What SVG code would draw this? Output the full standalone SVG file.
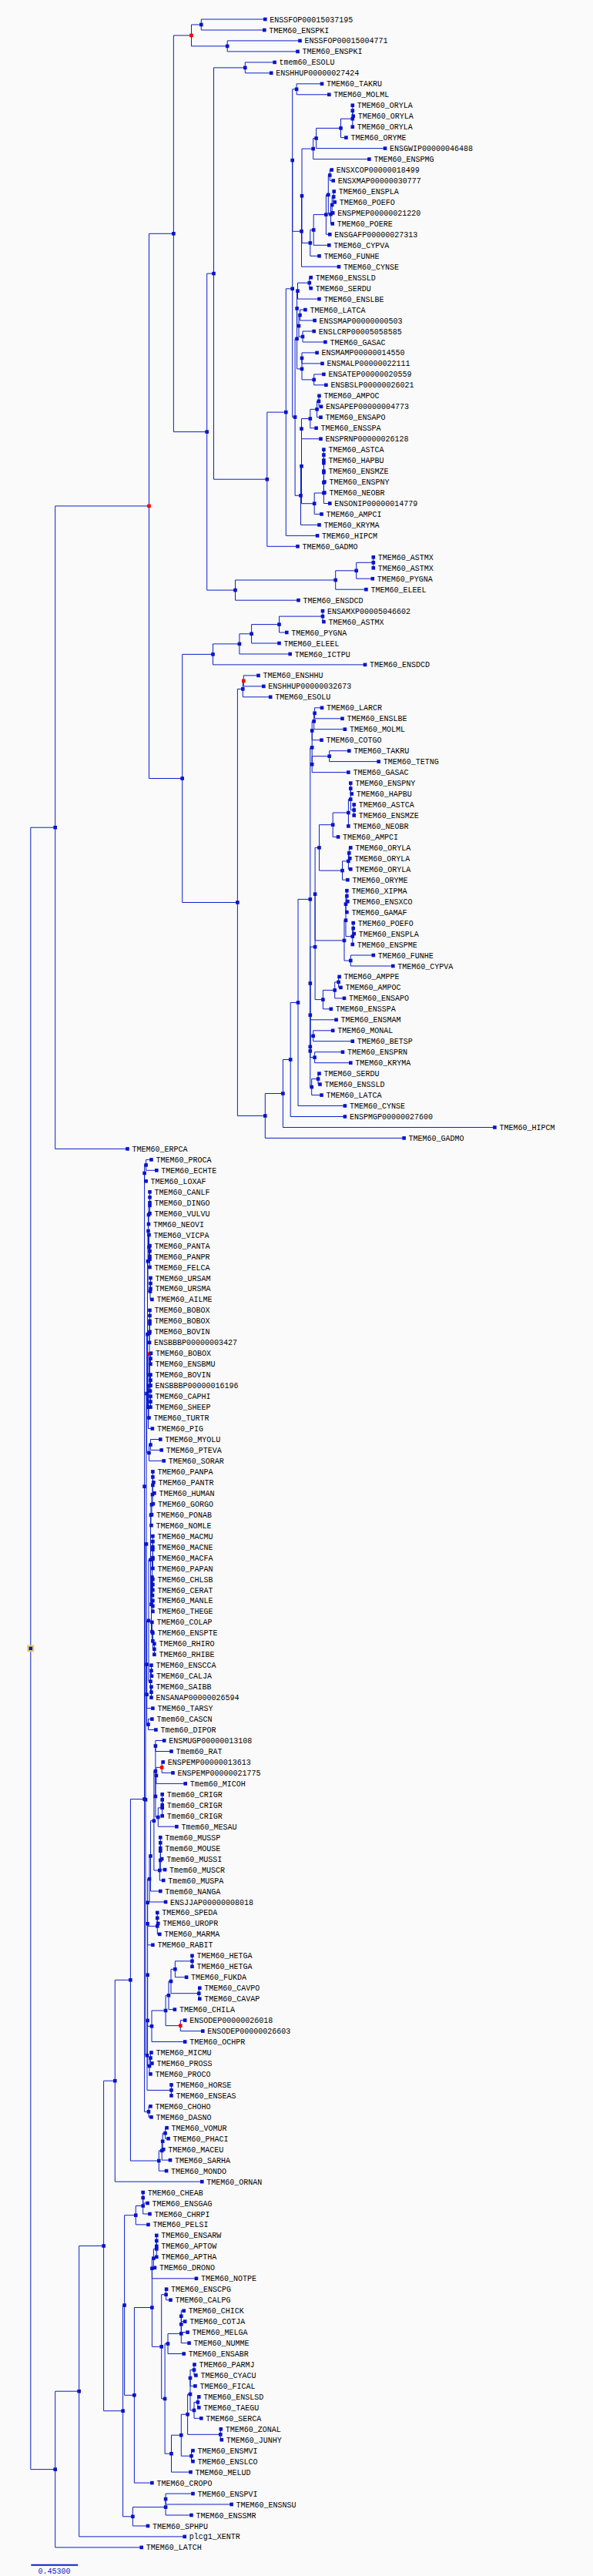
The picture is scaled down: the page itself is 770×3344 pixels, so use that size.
<svg xmlns="http://www.w3.org/2000/svg" xmlns:xlink="http://www.w3.org/1999/xlink" width="770" height="3344" viewBox="0 0 770 3344">
<style>
.c path{fill:none;stroke:#0d1fcb;stroke-width:1}
text{font-family:"Liberation Mono","DejaVu Sans Mono",monospace;font-size:10px;fill:#000}
.nodes{fill:#0a14c8}
.red{fill:#f00}
</style>
<defs><rect id="m" x="-2.3" y="-2.3" width="4.6" height="4.6"/></defs>
<rect width="770" height="3344" fill="#fafafa"/>
<g id="connectors" class="c">
<path d="M344.3 25H261.3V39H343.3"/><path d="M389.5 52.9H295.2V66.9H386.5"/><path d="M261.3 32H248.5V59.9H295.2"/><path d="M356.6 80.9H318.3V94.8H352.2"/>
<path d="M418 108.8H385.1V122.8H427.3"/><path d="M457.8 136.7V150.7H458.7"/><path d="M457.8 143.7V164.7"/><path d="M457.8 154.2H442.5V178.6H449.4"/><path d="M442.5 166.4H410.6V192.6H500"/><path d="M410.6 179.5H406.7V206.6H479.4"/>
<path d="M430.7 220.5H428.3V234.5H432.7"/><path d="M433.7 248.5H433.2V262.4H434.7"/><path d="M433.2 255.5H431.2V276.4H432.2"/><path d="M431.2 266H429.5V290.4H431.7"/><path d="M428.3 227.5H426.3V278.2H429.5"/><path d="M426.3 252.9H423.4V304.3H428.3"/><path d="M423.4 278.6H407.2V318.3H427.3"/><path d="M407.2 298.5H402.8V332.3H414.5"/><path d="M406.7 193.1H392V315.4H402.8"/><path d="M392 254.3H391.5V346.2H440"/><path d="M385.1 115.8H379.7V300.3H391.5"/>
<path d="M403.7 360.2H401.8V374.2H403.7"/><path d="M401.8 367.2H386.5V388.1H414.5"/><path d="M396.4 402.1H389.5V416H408.6"/><path d="M407.7 430H393V444H422.4"/><path d="M389.5 409.1H388V437H393"/><path d="M386.5 377.7H385.6V423.1H388"/><path d="M411.6 457.9H392V471.9H418.5"/><path d="M420.4 485.9H407.7V499.8H423.4"/><path d="M392 464.9V492.9H407.7"/><path d="M385.6 400.4V478.9H392"/>
<path d="M414.5 513.8H414V527.8H417"/><path d="M414 520.8H411.6V541.7H416.5"/><path d="M411.6 531.3H402.8V555.7H410.6"/><path d="M402.8 543.5H391.5V569.7H416.5"/>
<path d="M420.4 583.6V597.6"/><path d="M420.4 590.6V611.6"/><path d="M420.4 601.1V625.5H421.4"/><path d="M420.4 613.3V639.5H421.4"/><path d="M420.4 626.4V653.5H428.3"/><path d="M420.4 640H408.2V667.4H417.5"/><path d="M391.5 556.6V653.7H408.2"/><path d="M391.5 605.2H390.5V681.4H414.5"/><path d="M385.6 439.7H383.1V643.3H390.5"/><path d="M379.7 208.1V541.5H383.1"/><path d="M379.7 374.8H371.3V695.4H412.1"/><path d="M371.3 535.1H346.8V709.3H386.5"/><path d="M318.3 87.9H277.5V622.2H346.8"/>
<path d="M484.8 723.3V737.3"/><path d="M484.8 730.3H462.7V751.2H483.8"/><path d="M462.7 740.8H435.7V765.2H475.4"/><path d="M435.7 753H305.5V779.2H387.5"/><path d="M277.5 355.1H268.7V766.1H305.5"/><path d="M248.5 46H225.4V560.6H268.7"/>
<path d="M419 793.1V807.1H420.4"/><path d="M419 800.1H362.5V821H372.3"/><path d="M362.5 810.6H326.6V835H362.5"/><path d="M326.6 822.8H310.9V849H376.7"/><path d="M310.9 835.9H276.5V862.9H474"/>
<path d="M335.5 876.9H316.3V890.9H342.3"/><path d="M316.3 883.9H315.3V904.8H351.2"/>
<path d="M418 918.8H408.6V932.8H444.5"/><path d="M408.6 925.8H407.7V946.7H447.9"/><path d="M407.7 936.3H405.2V960.7H417.5"/><path d="M453.3 974.7H427.7V988.6H491.7"/><path d="M427.7 981.7H405.2V1002.6H452.4"/><path d="M405.2 948.5V992.2"/>
<path d="M455.3 1016.6V1030.5H456.8"/><path d="M459.7 1044.5V1058.5"/><path d="M455.3 1023.6V1051.5H459.7"/><path d="M455.3 1037.6H452.4V1072.4"/><path d="M452.4 1055H432.2V1086.4H439.1"/><path d="M455.3 1100.4H453.3V1114.3H454.3"/><path d="M453.3 1107.4H452.4V1128.3H455.3"/><path d="M452.4 1117.9H444.5V1142.2H451.4"/><path d="M432.2 1070.7H414.5V1130.1H444.5"/>
<path d="M450.4 1156.2V1170.2H451.4"/><path d="M450.4 1163.2H449V1184.1H450.4"/><path d="M458.7 1198.1V1212.1H459.7"/><path d="M458.7 1205.1H457.8V1226"/><path d="M449 1173.7V1215.6H457.8"/><path d="M484.8 1240H455.3V1254H510.3"/><path d="M449 1194.7H447V1247H455.3"/><path d="M414.5 1100.4H409.1V1220.9H447"/>
<path d="M440.6 1267.9H439.6V1281.9H442.5"/><path d="M439.6 1274.9H434.7V1295.9H447"/><path d="M434.7 1285.4H419.4V1309.8H429.8"/><path d="M409.1 1160.7V1297.6H419.4"/><path d="M409.1 1229.2H402.8V1323.8H436.6"/>
<path d="M432.2 1337.8H406.7V1351.7H457.8"/><path d="M445 1365.7H408.6V1379.7H455.3"/><path d="M406.7 1344.8H402.8V1372.7H408.6"/><path d="M402.8 1276.5V1358.8"/><path d="M414.5 1393.6H413.1V1407.6H415.5"/><path d="M413.1 1400.6H404.7V1421.6H417.5"/><path d="M402.8 1317.7V1411.1H404.7"/><path d="M405.2 970.4H402.8V1364.4"/>
<path d="M402.8 1167.4H387V1435.5H447.9"/><path d="M387 1301.5H377.2V1449.5H447.9"/><path d="M377.2 1375.5H367.4V1463.5H642.4"/><path d="M367.4 1419.5H344.3V1477.4H524.6"/><path d="M315.3 894.4H308.4V1448.5H344.3"/><path d="M276.5 849.4H236.7V1171.5H308.4"/><path d="M225.4 303.3H193.5V1010.5H236.7"/><path d="M193.5 656.9H71.7V1491.4H165.5"/>
<path d="M196.5 1505.4H189.6V1519.3H203.3"/><path d="M189.6 1512.4H187.6V1533.3H189.6"/>
<path d="M194.5 1547.3V1561.2"/><path d="M194.5 1554.3V1575.2"/><path d="M194.5 1564.8H193V1589.1"/><path d="M194.5 1617.1V1631"/><path d="M194.5 1624.1V1645"/><path d="M193.5 1603.1V1634.6H194.5"/><path d="M195.5 1659V1672.9"/><path d="M195.5 1666H195V1686.9H197.4"/><path d="M193 1577H192.5V1618.9H193.5"/><path d="M192.5 1598H192V1676.5H195"/>
<path d="M194.5 1700.9V1714.8"/><path d="M194.5 1707.9V1728.8"/><path d="M194.5 1718.4H194V1742.8"/><path d="M196 1756.7H195.5V1770.7"/><path d="M195.5 1784.7V1798.6"/><path d="M195.5 1812.6V1826.6"/><path d="M195.5 1791.7H195V1819.6H195.5"/><path d="M195.5 1763.7H194.5V1805.7H195"/><path d="M194 1730.6V1784.7H194.5"/><path d="M194 1757.7H193V1840.5H193.5"/><path d="M193 1799.1H192.5V1854.5H197.9"/>
<path d="M208.3 1868.5H195.5V1882.4H209.7"/><path d="M195.5 1875.5H193.5V1896.4H212.7"/><path d="M192 1637.3H191.5V1826.8H192.5"/><path d="M191.5 1732.1H190.6V1886H193.5"/>
<path d="M198.4 1910.4V1924.3H199.4"/><path d="M198.4 1917.4V1938.3H200.4"/><path d="M198.4 1927.9H198V1952.2H198.9"/><path d="M198 1940.1H197V1966.2"/><path d="M197 1953.2H196V1980.2H196.5"/>
<path d="M198.4 1994.1V2008.1"/><path d="M198.4 2001.1V2022.1"/><path d="M198.4 2011.6V2036"/><path d="M198.4 2050V2064"/><path d="M198.4 2077.9V2091.9"/><path d="M198.4 2057H198V2084.9H198.4"/><path d="M198.4 2023.8H197.5V2071H198"/>
<path d="M200.4 2133.8V2147.8"/><path d="M198.4 2119.8V2140.8H200.4"/><path d="M197.4 2105.9V2130.3H198.4"/><path d="M197.5 2047.4H196.5V2118.1H197.4"/><path d="M196 1966.7H195.5V2082.8H196.5"/>
<path d="M196.5 2161.7V2175.7H197"/><path d="M196.5 2189.7V2203.6"/><path d="M196.5 2168.7H195.5V2196.7H196.5"/><path d="M195.5 2024.8H193V2182.7H195.5"/><path d="M193 2103.8H190.6V2217.6H198.4"/><path d="M197.4 2231.6H192.5V2245.5H202.4"/><path d="M190.6 2160.7V2238.6H192.5"/><path d="M190.6 1809.1H190V2199.7H190.6"/>
<path d="M213.2 2259.5H201.9V2273.5H222.5"/><path d="M211.7 2287.4H210.2V2301.4H224.5"/><path d="M210.2 2294.4H202.9V2315.4H240.7"/><path d="M210.7 2329.3V2343.3"/><path d="M210.7 2336.3V2357.3"/><path d="M210.7 2346.8H205.3V2371.2H229.4"/><path d="M202.9 2304.9H201.9V2359H205.3"/><path d="M201.9 2266.5V2332"/>
<path d="M208.3 2385.2V2399.2"/><path d="M208.3 2392.2V2413.1H210.2"/><path d="M208.3 2402.7V2427.1H214.1"/><path d="M208.3 2414.9H207.3V2441H212.2"/><path d="M201.9 2299.3H199.9V2428H207.3"/><path d="M199.9 2363.7H195.5V2455H208.3"/><path d="M195.5 2409.4H194V2469H215.1"/>
<path d="M204.3 2482.9V2496.9H205.3"/><path d="M204.3 2489.9V2510.9H207.3"/><path d="M194 2439.2H191.6V2500.4H204.3"/><path d="M191.6 2469.8V2524.8H198.4"/>
<path d="M249.5 2538.8V2552.8"/><path d="M249.5 2545.8H227.4V2566.7H242.1"/><path d="M259.3 2580.7H258.3V2594.7H259.3"/><path d="M227.4 2556.3H222V2587.7H258.3"/><path d="M222 2572H219V2608.6H226.9"/><path d="M240.2 2622.6H234.3V2636.6H263.3"/><path d="M219 2590.3H215.1V2629.6H234.3"/><path d="M215.1 2610H197V2650.5H240.2"/><path d="M191.6 2497.3V2630.3H197"/>
<path d="M196.5 2664.5H195.5V2678.5H197.4"/><path d="M195.5 2671.5H194V2692.4H195.5"/><path d="M191.6 2563.8V2682H194"/><path d="M222.5 2706.4V2720.4"/><path d="M191.6 2622.9H191V2713.4H222.5"/>
<path d="M190 2004.4H189V2668.2H191"/><path d="M187.6 1522.9V2336.3H189"/><path d="M195.5 2734.3H193V2748.3H196.5"/><path d="M187.6 1929.6V2741.3H193"/>
<path d="M216.6 2762.2H214.6V2776.2H218.6"/><path d="M214.6 2769.2H211.2V2790.2H212.2"/><path d="M211.2 2779.7H210.2V2804.1H221"/><path d="M210.2 2791.9H206.3V2818.1H216.1"/><path d="M187.6 2335.5H169.4V2805H206.3"/><path d="M169.4 2570.3H149.3V2832.1H262.3"/>
<path d="M185.7 2846V2860H191.6"/><path d="M185.7 2853V2874H194.5"/><path d="M185.7 2863.5H176.3V2887.9H192.5"/>
<path d="M203.3 2901.9V2915.9"/><path d="M203.3 2908.9V2929.8"/><path d="M203.3 2919.4H199.4V2943.8H201"/><path d="M199.4 2931.6H197.4V2957.8H254.9"/>
<path d="M216.1 2971.7H215.6V2985.7H221.5"/><path d="M238.7 2999.7H235.3V3013.6H240.2"/><path d="M235.3 3006.7V3027.6H243.6"/><path d="M235.3 3017.2V3041.6H245.6"/><path d="M235.3 3029.4H218V3055.5H238.7"/>
<path d="M252.5 3069.5H252V3083.5H254.4"/><path d="M252 3076.5H247V3097.4H253.4"/><path d="M258.3 3111.4H256.9V3125.3H258.3"/><path d="M256.9 3118.4H252V3139.3H261.3"/><path d="M247 3087V3128.9H252"/><path d="M286.8 3153.3H286.3V3167.2H287.8"/><path d="M247 3108H243.6V3160.3H286.3"/><path d="M250.5 3181.2H248.5V3195.2H250.5"/><path d="M243.6 3134.2H235.3V3188.2H248.5"/><path d="M235.3 3161.2H222.5V3209.1H247.5"/>
<path d="M218 3042.5H214.1V3185.2H222.5"/><path d="M215.6 2978.7H209.7V3113.9H214.1"/><path d="M197.4 2944.7V3046.3H209.7"/><path d="M197.4 2995.5H174.4V3223.1H197.4"/><path d="M176.3 2875.7H161.6V3109.3H174.4"/>
<path d="M250.5 3237.1H215.1V3251H300.6"/><path d="M215.1 3244.1V3265H248.5"/><path d="M215.1 3254.6H172.4V3279H192"/><path d="M161.6 2992.5H159.6V3266.8H172.4"/>
<path d="M149.3 2701.2H134.6V3129.7H159.6"/><path d="M134.6 2915.5H102.7V3292.9H239.7"/><path d="M102.7 3104.2H71.7V3306.9H183.7"/><path d="M71.7 1074.2H39.8V3205.6H71.7"/>
</g>
<g id="scale"><path d="M40.3 3329.7H101.2" stroke="#0d1fcb" stroke-width="2"/><text x="49.6" y="3341" style="fill:#0d1fcb">0.45300</text></g>
<g id="internal-nodes" class="nodes">
<g id="nB"><use href="#m" x="261.3" y="32"/></g><g id="nC"><use href="#m" x="295.2" y="59.9"/></g><g id="nA"><use href="#m" x="248.5" y="46" class="red"/></g><g id="nF"><use href="#m" x="318.3" y="87.9"/></g>
<g id="nTM"><use href="#m" x="385.1" y="115.8"/></g><g id="nW"><use href="#m" x="457.8" y="143.7"/></g><g id="nV"><use href="#m" x="457.8" y="154.2"/></g><g id="nU"><use href="#m" x="442.5" y="166.4"/></g><g id="nT"><use href="#m" x="410.6" y="179.5"/></g><g id="nS"><use href="#m" x="406.7" y="193.1"/></g>
<g id="nX1"><use href="#m" x="428.3" y="227.5"/></g><g id="nX2"><use href="#m" x="433.2" y="255.5"/></g><g id="nX3"><use href="#m" x="431.2" y="266"/></g><g id="nX4"><use href="#m" x="429.5" y="278.2"/></g><g id="nX5"><use href="#m" x="426.3" y="252.9"/></g><g id="nX6"><use href="#m" x="423.4" y="278.6"/></g><g id="nX7"><use href="#m" x="407.2" y="298.5"/></g><g id="nX8"><use href="#m" x="402.8" y="315.4"/></g><g id="nR"><use href="#m" x="392" y="254.3"/></g><g id="nQ"><use href="#m" x="391.5" y="300.3"/></g><g id="nP"><use href="#m" x="379.7" y="208.1"/></g>
<g id="nY1"><use href="#m" x="401.8" y="367.2"/></g><g id="nY2"><use href="#m" x="386.5" y="377.7"/></g><g id="nZ1"><use href="#m" x="389.5" y="409.1"/></g><g id="nZ2"><use href="#m" x="393" y="437"/></g><g id="nZ3"><use href="#m" x="388" y="423.1"/></g><g id="nY3"><use href="#m" x="385.6" y="400.4"/></g><g id="nM1"><use href="#m" x="392" y="464.9"/></g><g id="nM2"><use href="#m" x="407.7" y="492.9"/></g><g id="nM3"><use href="#m" x="392" y="478.9"/></g><g id="nY4"><use href="#m" x="385.6" y="439.7"/></g>
<g id="nA1"><use href="#m" x="414" y="520.8"/></g><g id="nA2"><use href="#m" x="411.6" y="531.3"/></g><g id="nA3"><use href="#m" x="402.8" y="543.5"/></g><g id="nA4"><use href="#m" x="391.5" y="556.6"/></g>
<g id="nCi1"><use href="#m" x="420.4" y="590.6"/></g><g id="nCi2"><use href="#m" x="420.4" y="601.1"/></g><g id="nCi3"><use href="#m" x="420.4" y="613.3"/></g><g id="nCi4"><use href="#m" x="420.4" y="626.4"/></g><g id="nCi5"><use href="#m" x="420.4" y="640"/></g><g id="nCi6"><use href="#m" x="408.2" y="653.7"/></g><g id="nN604"><use href="#m" x="391.5" y="605.2"/></g><g id="nCi7"><use href="#m" x="390.5" y="643.3"/></g><g id="nY5"><use href="#m" x="383.1" y="541.5"/></g><g id="nO"><use href="#m" x="379.7" y="374.8"/></g><g id="nN"><use href="#m" x="371.3" y="535.1"/></g><g id="nG"><use href="#m" x="346.8" y="622.2"/></g><g id="nE"><use href="#m" x="277.5" y="355.1"/></g>
<g id="nAS1"><use href="#m" x="484.8" y="730.3"/></g><g id="nAS2"><use href="#m" x="462.7" y="740.8"/></g><g id="nAS3"><use href="#m" x="435.7" y="753"/></g><g id="nAS4"><use href="#m" x="305.5" y="766.1"/></g><g id="nH"><use href="#m" x="268.7" y="560.6"/></g><g id="nD"><use href="#m" x="225.4" y="303.3"/></g>
<g id="nCH1"><use href="#m" x="419" y="800.1"/></g><g id="nCH2"><use href="#m" x="362.5" y="810.6"/></g><g id="nCH3"><use href="#m" x="326.6" y="822.8"/></g><g id="nCH4"><use href="#m" x="310.9" y="835.9"/></g><g id="nCH5"><use href="#m" x="276.5" y="849.4"/></g>
<g id="nE1"><use href="#m" x="316.3" y="883.9" class="red"/></g><g id="nE2"><use href="#m" x="315.3" y="894.4"/></g>
<g id="nL1"><use href="#m" x="408.6" y="925.8"/></g><g id="nL2"><use href="#m" x="407.7" y="936.3"/></g><g id="nL3"><use href="#m" x="405.2" y="948.5"/></g><g id="nL4"><use href="#m" x="427.7" y="981.7"/></g><g id="nL5"><use href="#m" x="405.2" y="992.2"/></g><g id="nL6"><use href="#m" x="405.2" y="970.4"/></g>
<g id="nK1"><use href="#m" x="455.3" y="1023.6"/></g><g id="nK2"><use href="#m" x="459.7" y="1051.5"/></g><g id="nK3"><use href="#m" x="455.3" y="1037.6"/></g><g id="nK4"><use href="#m" x="452.4" y="1055"/></g><g id="nK5"><use href="#m" x="432.2" y="1070.7"/></g><g id="nO1"><use href="#m" x="453.3" y="1107.4"/></g><g id="nO2"><use href="#m" x="452.4" y="1117.9"/></g><g id="nO3"><use href="#m" x="444.5" y="1130.1"/></g><g id="nK6"><use href="#m" x="414.5" y="1100.4"/></g>
<g id="nP1"><use href="#m" x="450.4" y="1163.2"/></g><g id="nP2"><use href="#m" x="449" y="1173.7"/></g><g id="nP3"><use href="#m" x="458.7" y="1205.1"/></g><g id="nP4"><use href="#m" x="457.8" y="1215.6"/></g><g id="nP5"><use href="#m" x="449" y="1194.7"/></g><g id="nP6"><use href="#m" x="455.3" y="1247"/></g><g id="nP7"><use href="#m" x="447" y="1220.9"/></g><g id="nK7"><use href="#m" x="409.1" y="1160.7"/></g>
<g id="nAP1"><use href="#m" x="439.6" y="1274.9"/></g><g id="nAP2"><use href="#m" x="434.7" y="1285.4"/></g><g id="nAP3"><use href="#m" x="419.4" y="1297.6"/></g><g id="nK8"><use href="#m" x="409.1" y="1229.2"/></g><g id="nW5"><use href="#m" x="402.8" y="1276.5"/></g>
<g id="nMB"><use href="#m" x="406.7" y="1344.8"/></g><g id="nPK"><use href="#m" x="408.6" y="1372.7"/></g><g id="nZZ1"><use href="#m" x="402.8" y="1358.8"/></g><g id="nW3"><use href="#m" x="402.8" y="1317.7"/></g><g id="nSS"><use href="#m" x="413.1" y="1400.6"/></g><g id="nSL"><use href="#m" x="404.7" y="1411.1"/></g><g id="nW2"><use href="#m" x="402.8" y="1364.4"/></g><g id="nW1"><use href="#m" x="402.8" y="1167.4"/></g>
<g id="nV3"><use href="#m" x="387" y="1301.5"/></g><g id="nV2"><use href="#m" x="377.2" y="1375.5"/></g><g id="nV1"><use href="#m" x="367.4" y="1419.5"/></g><g id="nXX"><use href="#m" x="344.3" y="1448.5"/></g><g id="nX"><use href="#m" x="308.4" y="1171.5"/></g><g id="nI"><use href="#m" x="236.7" y="1010.5"/></g><g id="nR1"><use href="#m" x="193.5" y="656.9" class="red"/></g><g id="nJ"><use href="#m" x="71.7" y="1074.2"/></g>
<g id="pe"><use href="#m" x="189.6" y="1512.4"/></g><g id="af"><use href="#m" x="187.6" y="1522.9"/></g>
<g id="k1"><use href="#m" x="194.5" y="1554.3"/></g><g id="k2"><use href="#m" x="194.5" y="1564.8"/></g><g id="k3"><use href="#m" x="193" y="1577"/></g><g id="k4"><use href="#m" x="194.5" y="1624.1"/></g><g id="k5"><use href="#m" x="194.5" y="1634.6"/></g><g id="k6"><use href="#m" x="193.5" y="1618.9"/></g><g id="k7"><use href="#m" x="195.5" y="1666"/></g><g id="k8"><use href="#m" x="195" y="1676.5"/></g><g id="k9"><use href="#m" x="192.5" y="1598"/></g><g id="k10"><use href="#m" x="192" y="1637.3"/></g>
<g id="b1"><use href="#m" x="194.5" y="1707.9"/></g><g id="b2"><use href="#m" x="194.5" y="1718.4"/></g><g id="b3"><use href="#m" x="194" y="1730.6"/></g><g id="b4"><use href="#m" x="195.5" y="1763.7"/></g><g id="b5"><use href="#m" x="195.5" y="1791.7"/></g><g id="b6"><use href="#m" x="195.5" y="1819.6"/></g><g id="b7"><use href="#m" x="195" y="1805.7"/></g><g id="b8"><use href="#m" x="194.5" y="1784.7"/></g><g id="bred"><use href="#m" x="194" y="1757.7" class="red"/></g><g id="a2"><use href="#m" x="193" y="1799.1"/></g><g id="a3"><use href="#m" x="192.5" y="1826.8"/></g>
<g id="bt1"><use href="#m" x="195.5" y="1875.5"/></g><g id="bt2"><use href="#m" x="193.5" y="1886"/></g><g id="ca"><use href="#m" x="191.5" y="1732.1"/></g><g id="La"><use href="#m" x="190.6" y="1809.1"/></g>
<g id="hm1"><use href="#m" x="198.4" y="1917.4"/></g><g id="hm2"><use href="#m" x="198.4" y="1927.9"/></g><g id="hm3"><use href="#m" x="198" y="1940.1"/></g><g id="hm4"><use href="#m" x="197" y="1953.2"/></g><g id="hm5"><use href="#m" x="196" y="1966.7"/></g>
<g id="o1"><use href="#m" x="198.4" y="2001.1"/></g><g id="o2"><use href="#m" x="198.4" y="2011.6"/></g><g id="o3"><use href="#m" x="198.4" y="2023.8"/></g><g id="o4"><use href="#m" x="198.4" y="2057"/></g><g id="o5"><use href="#m" x="198.4" y="2084.9"/></g><g id="o6"><use href="#m" x="198" y="2071"/></g><g id="o7"><use href="#m" x="197.5" y="2047.4"/></g>
<g id="cl1"><use href="#m" x="200.4" y="2140.8"/></g><g id="cl2"><use href="#m" x="198.4" y="2130.3"/></g><g id="cl3"><use href="#m" x="197.4" y="2118.1"/></g><g id="ow"><use href="#m" x="196.5" y="2082.8"/></g><g id="cat"><use href="#m" x="195.5" y="2024.8"/></g>
<g id="nw1"><use href="#m" x="196.5" y="2168.7"/></g><g id="nw2"><use href="#m" x="196.5" y="2196.7"/></g><g id="nw3"><use href="#m" x="195.5" y="2182.7"/></g><g id="PrA"><use href="#m" x="193" y="2103.8"/></g><g id="Pr1"><use href="#m" x="190.6" y="2160.7"/></g><g id="cd"><use href="#m" x="192.5" y="2238.6"/></g><g id="Pr"><use href="#m" x="190.6" y="2199.7"/></g><g id="T1"><use href="#m" x="190" y="2004.4"/></g>
<g id="r1"><use href="#m" x="201.9" y="2266.5"/></g><g id="rred"><use href="#m" x="210.2" y="2294.4" class="red"/></g><g id="r2"><use href="#m" x="202.9" y="2304.9"/></g><g id="cr1"><use href="#m" x="210.7" y="2336.3"/></g><g id="cr2"><use href="#m" x="210.7" y="2346.8"/></g><g id="cr3"><use href="#m" x="205.3" y="2359"/></g><g id="r4"><use href="#m" x="201.9" y="2332"/></g><g id="r5"><use href="#m" x="201.9" y="2299.3"/></g>
<g id="m1"><use href="#m" x="208.3" y="2392.2"/></g><g id="m2"><use href="#m" x="208.3" y="2402.7"/></g><g id="m3"><use href="#m" x="208.3" y="2414.9"/></g><g id="m4"><use href="#m" x="207.3" y="2428"/></g><g id="r6"><use href="#m" x="199.9" y="2363.7"/></g><g id="r7"><use href="#m" x="195.5" y="2409.4"/></g><g id="r8"><use href="#m" x="194" y="2439.2"/></g>
<g id="sq1"><use href="#m" x="204.3" y="2489.9"/></g><g id="sq2"><use href="#m" x="204.3" y="2500.4"/></g><g id="g1"><use href="#m" x="191.6" y="2469.8"/></g><g id="g2"><use href="#m" x="191.6" y="2497.3"/></g>
<g id="hy1"><use href="#m" x="249.5" y="2545.8"/></g><g id="hy2"><use href="#m" x="227.4" y="2556.3"/></g><g id="cav"><use href="#m" x="258.3" y="2587.7"/></g><g id="hy3"><use href="#m" x="222" y="2572"/></g><g id="hy4"><use href="#m" x="219" y="2590.3"/></g><g id="od"><use href="#m" x="234.3" y="2629.6" class="red"/></g><g id="hy5"><use href="#m" x="215.1" y="2610"/></g><g id="hy6"><use href="#m" x="197" y="2630.3"/></g><g id="g3"><use href="#m" x="191.6" y="2563.8"/></g>
<g id="s1"><use href="#m" x="195.5" y="2671.5"/></g><g id="s2"><use href="#m" x="194" y="2682"/></g><g id="g4"><use href="#m" x="191.6" y="2622.9"/></g><g id="hs"><use href="#m" x="222.5" y="2713.4"/></g><g id="g5"><use href="#m" x="191" y="2668.2"/></g>
<g id="Bo"><use href="#m" x="189" y="2336.3"/></g><g id="BA"><use href="#m" x="187.6" y="1929.6"/></g><g id="xen"><use href="#m" x="193" y="2741.3"/></g><g id="Eu"><use href="#m" x="187.6" y="2335.5"/></g>
<g id="ma1"><use href="#m" x="214.6" y="2769.2"/></g><g id="ma2"><use href="#m" x="211.2" y="2779.7"/></g><g id="ma3"><use href="#m" x="210.2" y="2791.9"/></g><g id="ma4"><use href="#m" x="206.3" y="2805"/></g><g id="Th"><use href="#m" x="169.4" y="2570.3"/></g><g id="Mam"><use href="#m" x="149.3" y="2701.2"/></g>
<g id="t1"><use href="#m" x="185.7" y="2853"/></g><g id="t2"><use href="#m" x="185.7" y="2863.5"/></g><g id="t3"><use href="#m" x="176.3" y="2875.7"/></g>
<g id="pg1"><use href="#m" x="203.3" y="2908.9"/></g><g id="pg2"><use href="#m" x="203.3" y="2919.4"/></g><g id="pg3"><use href="#m" x="199.4" y="2931.6"/></g><g id="pg4"><use href="#m" x="197.4" y="2944.7"/></g>
<g id="cp"><use href="#m" x="215.6" y="2978.7"/></g><g id="ga1"><use href="#m" x="235.3" y="3006.7"/></g><g id="ga2"><use href="#m" x="235.3" y="3017.2"/></g><g id="ga3"><use href="#m" x="235.3" y="3029.4"/></g><g id="ga4"><use href="#m" x="218" y="3042.5"/></g>
<g id="pc1"><use href="#m" x="252" y="3076.5"/></g><g id="pc2"><use href="#m" x="247" y="3087"/></g><g id="lt"><use href="#m" x="256.9" y="3118.4"/></g><g id="lts"><use href="#m" x="252" y="3128.9"/></g><g id="pc3"><use href="#m" x="247" y="3108"/></g><g id="zj"><use href="#m" x="286.3" y="3160.3"/></g><g id="pc4"><use href="#m" x="243.6" y="3134.2"/></g><g id="mv"><use href="#m" x="248.5" y="3188.2"/></g><g id="pc5"><use href="#m" x="235.3" y="3161.2"/></g><g id="pc6"><use href="#m" x="222.5" y="3185.2"/></g>
<g id="nb"><use href="#m" x="214.1" y="3113.9"/></g><g id="nc"><use href="#m" x="209.7" y="3046.3"/></g><g id="aves"><use href="#m" x="197.4" y="2995.5"/></g><g id="ac"><use href="#m" x="174.4" y="3109.3"/></g><g id="arch"><use href="#m" x="161.6" y="2992.5"/></g>
<g id="sqa"><use href="#m" x="215.1" y="3244.1"/></g><g id="sqb"><use href="#m" x="215.1" y="3254.6"/></g><g id="lep"><use href="#m" x="172.4" y="3266.8"/></g><g id="sau"><use href="#m" x="159.6" y="3129.7"/></g>
<g id="nM"><use href="#m" x="134.6" y="2915.5"/></g><g id="nLx"><use href="#m" x="102.7" y="3104.2"/></g><g id="nK"><use href="#m" x="71.7" y="3205.6"/></g>
<g id="root"><rect x="35.3" y="2135.4" width="9" height="9" fill="#f0cf5a"/><use href="#m" x="39.8" y="2139.9"/></g>
</g>
<g id="leaves" class="nodes">
<g id="leaf0"><use href="#m" x="344.3" y="25"/><text x="350.3" y="28.5">ENSSFOP00015037195</text></g>
<g id="leaf1"><use href="#m" x="343.3" y="39"/><text x="349.3" y="42.5">TMEM60_ENSPKI</text></g>
<g id="leaf2"><use href="#m" x="389.5" y="52.9"/><text x="395.5" y="56.4">ENSSFOP00015004771</text></g>
<g id="leaf3"><use href="#m" x="386.5" y="66.9"/><text x="392.5" y="70.4">TMEM60_ENSPKI</text></g>
<g id="leaf4"><use href="#m" x="356.6" y="80.9"/><text x="362.6" y="84.4">tmem60_ESOLU</text></g>
<g id="leaf5"><use href="#m" x="352.2" y="94.8"/><text x="358.2" y="98.3">ENSHHUP00000027424</text></g>
<g id="leaf6"><use href="#m" x="418" y="108.8"/><text x="424" y="112.3">TMEM60_TAKRU</text></g>
<g id="leaf7"><use href="#m" x="427.3" y="122.8"/><text x="433.3" y="126.3">TMEM60_MOLML</text></g>
<g id="leaf8"><use href="#m" x="457.8" y="136.7"/><text x="463.8" y="140.2">TMEM60_ORYLA</text></g>
<g id="leaf9"><use href="#m" x="458.7" y="150.7"/><text x="464.7" y="154.2">TMEM60_ORYLA</text></g>
<g id="leaf10"><use href="#m" x="457.8" y="164.7"/><text x="463.8" y="168.2">TMEM60_ORYLA</text></g>
<g id="leaf11"><use href="#m" x="449.4" y="178.6"/><text x="455.4" y="182.1">TMEM60_ORYME</text></g>
<g id="leaf12"><use href="#m" x="500" y="192.6"/><text x="506" y="196.1">ENSGWIP00000046488</text></g>
<g id="leaf13"><use href="#m" x="479.4" y="206.6"/><text x="485.4" y="210.1">TMEM60_ENSPMG</text></g>
<g id="leaf14"><use href="#m" x="430.7" y="220.5"/><text x="436.7" y="224">ENSXCOP00000018499</text></g>
<g id="leaf15"><use href="#m" x="432.7" y="234.5"/><text x="438.7" y="238">ENSXMAP00000030777</text></g>
<g id="leaf16"><use href="#m" x="433.7" y="248.5"/><text x="439.7" y="252">TMEM60_ENSPLA</text></g>
<g id="leaf17"><use href="#m" x="434.7" y="262.4"/><text x="440.7" y="265.9">TMEM60_POEFO</text></g>
<g id="leaf18"><use href="#m" x="432.2" y="276.4"/><text x="438.2" y="279.9">ENSPMEP00000021220</text></g>
<g id="leaf19"><use href="#m" x="431.7" y="290.4"/><text x="437.7" y="293.9">TMEM60_POERE</text></g>
<g id="leaf20"><use href="#m" x="428.3" y="304.3"/><text x="434.3" y="307.8">ENSGAFP00000027313</text></g>
<g id="leaf21"><use href="#m" x="427.3" y="318.3"/><text x="433.3" y="321.8">TMEM60_CYPVA</text></g>
<g id="leaf22"><use href="#m" x="414.5" y="332.3"/><text x="420.5" y="335.8">TMEM60_FUNHE</text></g>
<g id="leaf23"><use href="#m" x="440" y="346.2"/><text x="446" y="349.7">TMEM60_CYNSE</text></g>
<g id="leaf24"><use href="#m" x="403.7" y="360.2"/><text x="409.7" y="363.7">TMEM60_ENSSLD</text></g>
<g id="leaf25"><use href="#m" x="403.7" y="374.2"/><text x="409.7" y="377.7">TMEM60_SERDU</text></g>
<g id="leaf26"><use href="#m" x="414.5" y="388.1"/><text x="420.5" y="391.6">TMEM60_ENSLBE</text></g>
<g id="leaf27"><use href="#m" x="396.4" y="402.1"/><text x="402.4" y="405.6">TMEM60_LATCA</text></g>
<g id="leaf28"><use href="#m" x="408.6" y="416"/><text x="414.6" y="419.5">ENSSMAP00000000503</text></g>
<g id="leaf29"><use href="#m" x="407.7" y="430"/><text x="413.7" y="433.5">ENSLCRP00005058585</text></g>
<g id="leaf30"><use href="#m" x="422.4" y="444"/><text x="428.4" y="447.5">TMEM60_GASAC</text></g>
<g id="leaf31"><use href="#m" x="411.6" y="457.9"/><text x="417.6" y="461.4">ENSMAMP00000014550</text></g>
<g id="leaf32"><use href="#m" x="418.5" y="471.9"/><text x="424.5" y="475.4">ENSMALP00000022111</text></g>
<g id="leaf33"><use href="#m" x="420.4" y="485.9"/><text x="426.4" y="489.4">ENSATEP00000020559</text></g>
<g id="leaf34"><use href="#m" x="423.4" y="499.8"/><text x="429.4" y="503.3">ENSBSLP00000026021</text></g>
<g id="leaf35"><use href="#m" x="414.5" y="513.8"/><text x="420.5" y="517.3">TMEM60_AMPOC</text></g>
<g id="leaf36"><use href="#m" x="417" y="527.8"/><text x="423" y="531.3">ENSAPEP00000004773</text></g>
<g id="leaf37"><use href="#m" x="416.5" y="541.7"/><text x="422.5" y="545.2">TMEM60_ENSAPO</text></g>
<g id="leaf38"><use href="#m" x="410.6" y="555.7"/><text x="416.6" y="559.2">TMEM60_ENSSPA</text></g>
<g id="leaf39"><use href="#m" x="416.5" y="569.7"/><text x="422.5" y="573.2">ENSPRNP00000026128</text></g>
<g id="leaf40"><use href="#m" x="420.4" y="583.6"/><text x="426.4" y="587.1">TMEM60_ASTCA</text></g>
<g id="leaf41"><use href="#m" x="420.4" y="597.6"/><text x="426.4" y="601.1">TMEM60_HAPBU</text></g>
<g id="leaf42"><use href="#m" x="420.4" y="611.6"/><text x="426.4" y="615.1">TMEM60_ENSMZE</text></g>
<g id="leaf43"><use href="#m" x="421.4" y="625.5"/><text x="427.4" y="629">TMEM60_ENSPNY</text></g>
<g id="leaf44"><use href="#m" x="421.4" y="639.5"/><text x="427.4" y="643">TMEM60_NEOBR</text></g>
<g id="leaf45"><use href="#m" x="428.3" y="653.5"/><text x="434.3" y="657">ENSONIP00000014779</text></g>
<g id="leaf46"><use href="#m" x="417.5" y="667.4"/><text x="423.5" y="670.9">TMEM60_AMPCI</text></g>
<g id="leaf47"><use href="#m" x="414.5" y="681.4"/><text x="420.5" y="684.9">TMEM60_KRYMA</text></g>
<g id="leaf48"><use href="#m" x="412.1" y="695.4"/><text x="418.1" y="698.9">TMEM60_HIPCM</text></g>
<g id="leaf49"><use href="#m" x="386.5" y="709.3"/><text x="392.5" y="712.8">TMEM60_GADMO</text></g>
<g id="leaf50"><use href="#m" x="484.8" y="723.3"/><text x="490.8" y="726.8">TMEM60_ASTMX</text></g>
<g id="leaf51"><use href="#m" x="484.8" y="737.3"/><text x="490.8" y="740.8">TMEM60_ASTMX</text></g>
<g id="leaf52"><use href="#m" x="483.8" y="751.2"/><text x="489.8" y="754.7">TMEM60_PYGNA</text></g>
<g id="leaf53"><use href="#m" x="475.4" y="765.2"/><text x="481.4" y="768.7">TMEM60_ELEEL</text></g>
<g id="leaf54"><use href="#m" x="387.5" y="779.2"/><text x="393.5" y="782.7">TMEM60_ENSDCD</text></g>
<g id="leaf55"><use href="#m" x="419" y="793.1"/><text x="425" y="796.6">ENSAMXP00005046602</text></g>
<g id="leaf56"><use href="#m" x="420.4" y="807.1"/><text x="426.4" y="810.6">TMEM60_ASTMX</text></g>
<g id="leaf57"><use href="#m" x="372.3" y="821"/><text x="378.3" y="824.5">TMEM60_PYGNA</text></g>
<g id="leaf58"><use href="#m" x="362.5" y="835"/><text x="368.5" y="838.5">TMEM60_ELEEL</text></g>
<g id="leaf59"><use href="#m" x="376.7" y="849"/><text x="382.7" y="852.5">TMEM60_ICTPU</text></g>
<g id="leaf60"><use href="#m" x="474" y="862.9"/><text x="480" y="866.4">TMEM60_ENSDCD</text></g>
<g id="leaf61"><use href="#m" x="335.5" y="876.9"/><text x="341.5" y="880.4">TMEM60_ENSHHU</text></g>
<g id="leaf62"><use href="#m" x="342.3" y="890.9"/><text x="348.3" y="894.4">ENSHHUP00000032673</text></g>
<g id="leaf63"><use href="#m" x="351.2" y="904.8"/><text x="357.2" y="908.3">TMEM60_ESOLU</text></g>
<g id="leaf64"><use href="#m" x="418" y="918.8"/><text x="424" y="922.3">TMEM60_LARCR</text></g>
<g id="leaf65"><use href="#m" x="444.5" y="932.8"/><text x="450.5" y="936.3">TMEM60_ENSLBE</text></g>
<g id="leaf66"><use href="#m" x="447.9" y="946.7"/><text x="453.9" y="950.2">TMEM60_MOLML</text></g>
<g id="leaf67"><use href="#m" x="417.5" y="960.7"/><text x="423.5" y="964.2">TMEM60_COTGO</text></g>
<g id="leaf68"><use href="#m" x="453.3" y="974.7"/><text x="459.3" y="978.2">TMEM60_TAKRU</text></g>
<g id="leaf69"><use href="#m" x="491.7" y="988.6"/><text x="497.7" y="992.1">TMEM60_TETNG</text></g>
<g id="leaf70"><use href="#m" x="452.4" y="1002.6"/><text x="458.4" y="1006.1">TMEM60_GASAC</text></g>
<g id="leaf71"><use href="#m" x="455.3" y="1016.6"/><text x="461.3" y="1020.1">TMEM60_ENSPNY</text></g>
<g id="leaf72"><use href="#m" x="456.8" y="1030.5"/><text x="462.8" y="1034">TMEM60_HAPBU</text></g>
<g id="leaf73"><use href="#m" x="459.7" y="1044.5"/><text x="465.7" y="1048">TMEM60_ASTCA</text></g>
<g id="leaf74"><use href="#m" x="459.7" y="1058.5"/><text x="465.7" y="1062">TMEM60_ENSMZE</text></g>
<g id="leaf75"><use href="#m" x="452.4" y="1072.4"/><text x="458.4" y="1075.9">TMEM60_NEOBR</text></g>
<g id="leaf76"><use href="#m" x="439.1" y="1086.4"/><text x="445.1" y="1089.9">TMEM60_AMPCI</text></g>
<g id="leaf77"><use href="#m" x="455.3" y="1100.4"/><text x="461.3" y="1103.9">TMEM60_ORYLA</text></g>
<g id="leaf78"><use href="#m" x="454.3" y="1114.3"/><text x="460.3" y="1117.8">TMEM60_ORYLA</text></g>
<g id="leaf79"><use href="#m" x="455.3" y="1128.3"/><text x="461.3" y="1131.8">TMEM60_ORYLA</text></g>
<g id="leaf80"><use href="#m" x="451.4" y="1142.2"/><text x="457.4" y="1145.7">TMEM60_ORYME</text></g>
<g id="leaf81"><use href="#m" x="450.4" y="1156.2"/><text x="456.4" y="1159.7">TMEM60_XIPMA</text></g>
<g id="leaf82"><use href="#m" x="451.4" y="1170.2"/><text x="457.4" y="1173.7">TMEM60_ENSXCO</text></g>
<g id="leaf83"><use href="#m" x="450.4" y="1184.1"/><text x="456.4" y="1187.6">TMEM60_GAMAF</text></g>
<g id="leaf84"><use href="#m" x="458.7" y="1198.1"/><text x="464.7" y="1201.6">TMEM60_POEFO</text></g>
<g id="leaf85"><use href="#m" x="459.7" y="1212.1"/><text x="465.7" y="1215.6">TMEM60_ENSPLA</text></g>
<g id="leaf86"><use href="#m" x="457.8" y="1226"/><text x="463.8" y="1229.5">TMEM60_ENSPME</text></g>
<g id="leaf87"><use href="#m" x="484.8" y="1240"/><text x="490.8" y="1243.5">TMEM60_FUNHE</text></g>
<g id="leaf88"><use href="#m" x="510.3" y="1254"/><text x="516.3" y="1257.5">TMEM60_CYPVA</text></g>
<g id="leaf89"><use href="#m" x="440.6" y="1267.9"/><text x="446.6" y="1271.4">TMEM60_AMPPE</text></g>
<g id="leaf90"><use href="#m" x="442.5" y="1281.9"/><text x="448.5" y="1285.4">TMEM60_AMPOC</text></g>
<g id="leaf91"><use href="#m" x="447" y="1295.9"/><text x="453" y="1299.4">TMEM60_ENSAPO</text></g>
<g id="leaf92"><use href="#m" x="429.8" y="1309.8"/><text x="435.8" y="1313.3">TMEM60_ENSSPA</text></g>
<g id="leaf93"><use href="#m" x="436.6" y="1323.8"/><text x="442.6" y="1327.3">TMEM60_ENSMAM</text></g>
<g id="leaf94"><use href="#m" x="432.2" y="1337.8"/><text x="438.2" y="1341.3">TMEM60_MONAL</text></g>
<g id="leaf95"><use href="#m" x="457.8" y="1351.7"/><text x="463.8" y="1355.2">TMEM60_BETSP</text></g>
<g id="leaf96"><use href="#m" x="445" y="1365.7"/><text x="451" y="1369.2">TMEM60_ENSPRN</text></g>
<g id="leaf97"><use href="#m" x="455.3" y="1379.7"/><text x="461.3" y="1383.2">TMEM60_KRYMA</text></g>
<g id="leaf98"><use href="#m" x="414.5" y="1393.6"/><text x="420.5" y="1397.1">TMEM60_SERDU</text></g>
<g id="leaf99"><use href="#m" x="415.5" y="1407.6"/><text x="421.5" y="1411.1">TMEM60_ENSSLD</text></g>
<g id="leaf100"><use href="#m" x="417.5" y="1421.6"/><text x="423.5" y="1425.1">TMEM60_LATCA</text></g>
<g id="leaf101"><use href="#m" x="447.9" y="1435.5"/><text x="453.9" y="1439">TMEM60_CYNSE</text></g>
<g id="leaf102"><use href="#m" x="447.9" y="1449.5"/><text x="453.9" y="1453">ENSPMGP00000027600</text></g>
<g id="leaf103"><use href="#m" x="642.4" y="1463.5"/><text x="648.4" y="1467">TMEM60_HIPCM</text></g>
<g id="leaf104"><use href="#m" x="524.6" y="1477.4"/><text x="530.6" y="1480.9">TMEM60_GADMO</text></g>
<g id="leaf105"><use href="#m" x="165.5" y="1491.4"/><text x="171.5" y="1494.9">TMEM60_ERPCA</text></g>
<g id="leaf106"><use href="#m" x="196.5" y="1505.4"/><text x="202.5" y="1508.9">TMEM60_PROCA</text></g>
<g id="leaf107"><use href="#m" x="203.3" y="1519.3"/><text x="209.3" y="1522.8">TMEM60_ECHTE</text></g>
<g id="leaf108"><use href="#m" x="189.6" y="1533.3"/><text x="195.6" y="1536.8">TMEM60_LOXAF</text></g>
<g id="leaf109"><use href="#m" x="194.5" y="1547.3"/><text x="200.5" y="1550.8">TMEM60_CANLF</text></g>
<g id="leaf110"><use href="#m" x="194.5" y="1561.2"/><text x="200.5" y="1564.7">TMEM60_DINGO</text></g>
<g id="leaf111"><use href="#m" x="194.5" y="1575.2"/><text x="200.5" y="1578.7">TMEM60_VULVU</text></g>
<g id="leaf112"><use href="#m" x="193" y="1589.1"/><text x="199" y="1592.6">TMM60_NEOVI</text></g>
<g id="leaf113"><use href="#m" x="193.5" y="1603.1"/><text x="199.5" y="1606.6">TMEM60_VICPA</text></g>
<g id="leaf114"><use href="#m" x="194.5" y="1617.1"/><text x="200.5" y="1620.6">TMEM60_PANTA</text></g>
<g id="leaf115"><use href="#m" x="194.5" y="1631"/><text x="200.5" y="1634.5">TMEM60_PANPR</text></g>
<g id="leaf116"><use href="#m" x="194.5" y="1645"/><text x="200.5" y="1648.5">TMEM60_FELCA</text></g>
<g id="leaf117"><use href="#m" x="195.5" y="1659"/><text x="201.5" y="1662.5">TMEM60_URSAM</text></g>
<g id="leaf118"><use href="#m" x="195.5" y="1672.9"/><text x="201.5" y="1676.4">TMEM60_URSMA</text></g>
<g id="leaf119"><use href="#m" x="197.4" y="1686.9"/><text x="203.4" y="1690.4">TMEM60_AILME</text></g>
<g id="leaf120"><use href="#m" x="194.5" y="1700.9"/><text x="200.5" y="1704.4">TMEM60_BOBOX</text></g>
<g id="leaf121"><use href="#m" x="194.5" y="1714.8"/><text x="200.5" y="1718.3">TMEM60_BOBOX</text></g>
<g id="leaf122"><use href="#m" x="194.5" y="1728.8"/><text x="200.5" y="1732.3">TMEM60_BOVIN</text></g>
<g id="leaf123"><use href="#m" x="194" y="1742.8"/><text x="200" y="1746.3">ENSBBBP00000003427</text></g>
<g id="leaf124"><use href="#m" x="196" y="1756.7"/><text x="202" y="1760.2">TMEM60_BOBOX</text></g>
<g id="leaf125"><use href="#m" x="195.5" y="1770.7"/><text x="201.5" y="1774.2">TMEM60_ENSBMU</text></g>
<g id="leaf126"><use href="#m" x="195.5" y="1784.7"/><text x="201.5" y="1788.2">TMEM60_BOVIN</text></g>
<g id="leaf127"><use href="#m" x="195.5" y="1798.6"/><text x="201.5" y="1802.1">ENSBBBP00000016196</text></g>
<g id="leaf128"><use href="#m" x="195.5" y="1812.6"/><text x="201.5" y="1816.1">TMEM60_CAPHI</text></g>
<g id="leaf129"><use href="#m" x="195.5" y="1826.6"/><text x="201.5" y="1830.1">TMEM60_SHEEP</text></g>
<g id="leaf130"><use href="#m" x="193.5" y="1840.5"/><text x="199.5" y="1844">TMEM60_TURTR</text></g>
<g id="leaf131"><use href="#m" x="197.9" y="1854.5"/><text x="203.9" y="1858">TMEM60_PIG</text></g>
<g id="leaf132"><use href="#m" x="208.3" y="1868.5"/><text x="214.3" y="1872">TMEM60_MYOLU</text></g>
<g id="leaf133"><use href="#m" x="209.7" y="1882.4"/><text x="215.7" y="1885.9">TMEM60_PTEVA</text></g>
<g id="leaf134"><use href="#m" x="212.7" y="1896.4"/><text x="218.7" y="1899.9">TMEM60_SORAR</text></g>
<g id="leaf135"><use href="#m" x="198.4" y="1910.4"/><text x="204.4" y="1913.9">TMEM60_PANPA</text></g>
<g id="leaf136"><use href="#m" x="199.4" y="1924.3"/><text x="205.4" y="1927.8">TMEM60_PANTR</text></g>
<g id="leaf137"><use href="#m" x="200.4" y="1938.3"/><text x="206.4" y="1941.8">TMEM60_HUMAN</text></g>
<g id="leaf138"><use href="#m" x="198.9" y="1952.2"/><text x="204.9" y="1955.7">TMEM60_GORGO</text></g>
<g id="leaf139"><use href="#m" x="197" y="1966.2"/><text x="203" y="1969.7">TMEM60_PONAB</text></g>
<g id="leaf140"><use href="#m" x="196.5" y="1980.2"/><text x="202.5" y="1983.7">TMEM60_NOMLE</text></g>
<g id="leaf141"><use href="#m" x="198.4" y="1994.1"/><text x="204.4" y="1997.6">TMEM60_MACMU</text></g>
<g id="leaf142"><use href="#m" x="198.4" y="2008.1"/><text x="204.4" y="2011.6">TMEM60_MACNE</text></g>
<g id="leaf143"><use href="#m" x="198.4" y="2022.1"/><text x="204.4" y="2025.6">TMEM60_MACFA</text></g>
<g id="leaf144"><use href="#m" x="198.4" y="2036"/><text x="204.4" y="2039.5">TMEM60_PAPAN</text></g>
<g id="leaf145"><use href="#m" x="198.4" y="2050"/><text x="204.4" y="2053.5">TMEM60_CHLSB</text></g>
<g id="leaf146"><use href="#m" x="198.4" y="2064"/><text x="204.4" y="2067.5">TMEM60_CERAT</text></g>
<g id="leaf147"><use href="#m" x="198.4" y="2077.9"/><text x="204.4" y="2081.4">TMEM60_MANLE</text></g>
<g id="leaf148"><use href="#m" x="198.4" y="2091.9"/><text x="204.4" y="2095.4">TMEM60_THEGE</text></g>
<g id="leaf149"><use href="#m" x="197.4" y="2105.9"/><text x="203.4" y="2109.4">TMEM60_COLAP</text></g>
<g id="leaf150"><use href="#m" x="198.4" y="2119.8"/><text x="204.4" y="2123.3">TMEM60_ENSPTE</text></g>
<g id="leaf151"><use href="#m" x="200.4" y="2133.8"/><text x="206.4" y="2137.3">TMEM60_RHIRO</text></g>
<g id="leaf152"><use href="#m" x="200.4" y="2147.8"/><text x="206.4" y="2151.3">TMEM60_RHIBE</text></g>
<g id="leaf153"><use href="#m" x="196.5" y="2161.7"/><text x="202.5" y="2165.2">TMEM60_ENSCCA</text></g>
<g id="leaf154"><use href="#m" x="197" y="2175.7"/><text x="203" y="2179.2">TMEM60_CALJA</text></g>
<g id="leaf155"><use href="#m" x="196.5" y="2189.7"/><text x="202.5" y="2193.2">TMEM60_SAIBB</text></g>
<g id="leaf156"><use href="#m" x="196.5" y="2203.6"/><text x="202.5" y="2207.1">ENSANAP00000026594</text></g>
<g id="leaf157"><use href="#m" x="198.4" y="2217.6"/><text x="204.4" y="2221.1">TMEM60_TARSY</text></g>
<g id="leaf158"><use href="#m" x="197.4" y="2231.6"/><text x="203.4" y="2235.1">Tmem60_CASCN</text></g>
<g id="leaf159"><use href="#m" x="202.4" y="2245.5"/><text x="208.4" y="2249">Tmem60_DIPOR</text></g>
<g id="leaf160"><use href="#m" x="213.2" y="2259.5"/><text x="219.2" y="2263">ENSMUGP00000013108</text></g>
<g id="leaf161"><use href="#m" x="222.5" y="2273.5"/><text x="228.5" y="2277">Tmem60_RAT</text></g>
<g id="leaf162"><use href="#m" x="211.7" y="2287.4"/><text x="217.7" y="2290.9">ENSPEMP00000013613</text></g>
<g id="leaf163"><use href="#m" x="224.5" y="2301.4"/><text x="230.5" y="2304.9">ENSPEMP00000021775</text></g>
<g id="leaf164"><use href="#m" x="240.7" y="2315.4"/><text x="246.7" y="2318.9">Tmem60_MICOH</text></g>
<g id="leaf165"><use href="#m" x="210.7" y="2329.3"/><text x="216.7" y="2332.8">Tmem60_CRIGR</text></g>
<g id="leaf166"><use href="#m" x="210.7" y="2343.3"/><text x="216.7" y="2346.8">Tmem60_CRIGR</text></g>
<g id="leaf167"><use href="#m" x="210.7" y="2357.3"/><text x="216.7" y="2360.8">Tmem60_CRIGR</text></g>
<g id="leaf168"><use href="#m" x="229.4" y="2371.2"/><text x="235.4" y="2374.7">Tmem60_MESAU</text></g>
<g id="leaf169"><use href="#m" x="208.3" y="2385.2"/><text x="214.3" y="2388.7">Tmem60_MUSSP</text></g>
<g id="leaf170"><use href="#m" x="208.3" y="2399.2"/><text x="214.3" y="2402.7">Tmem60_MOUSE</text></g>
<g id="leaf171"><use href="#m" x="210.2" y="2413.1"/><text x="216.2" y="2416.6">Tmem60_MUSSI</text></g>
<g id="leaf172"><use href="#m" x="214.1" y="2427.1"/><text x="220.1" y="2430.6">Tmem60_MUSCR</text></g>
<g id="leaf173"><use href="#m" x="212.2" y="2441"/><text x="218.2" y="2444.5">Tmem60_MUSPA</text></g>
<g id="leaf174"><use href="#m" x="208.3" y="2455"/><text x="214.3" y="2458.5">Tmem60_NANGA</text></g>
<g id="leaf175"><use href="#m" x="215.1" y="2469"/><text x="221.1" y="2472.5">ENSJJAP00000008018</text></g>
<g id="leaf176"><use href="#m" x="204.3" y="2482.9"/><text x="210.3" y="2486.4">TMEM60_SPEDA</text></g>
<g id="leaf177"><use href="#m" x="205.3" y="2496.9"/><text x="211.3" y="2500.4">TMEM60_UROPR</text></g>
<g id="leaf178"><use href="#m" x="207.3" y="2510.9"/><text x="213.3" y="2514.4">TMEM60_MARMA</text></g>
<g id="leaf179"><use href="#m" x="198.4" y="2524.8"/><text x="204.4" y="2528.3">TMEM60_RABIT</text></g>
<g id="leaf180"><use href="#m" x="249.5" y="2538.8"/><text x="255.5" y="2542.3">TMEM60_HETGA</text></g>
<g id="leaf181"><use href="#m" x="249.5" y="2552.8"/><text x="255.5" y="2556.3">TMEM60_HETGA</text></g>
<g id="leaf182"><use href="#m" x="242.1" y="2566.7"/><text x="248.1" y="2570.2">TMEM60_FUKDA</text></g>
<g id="leaf183"><use href="#m" x="259.3" y="2580.7"/><text x="265.3" y="2584.2">TMEM60_CAVPO</text></g>
<g id="leaf184"><use href="#m" x="259.3" y="2594.7"/><text x="265.3" y="2598.2">TMEM60_CAVAP</text></g>
<g id="leaf185"><use href="#m" x="226.9" y="2608.6"/><text x="232.9" y="2612.1">TMEM60_CHILA</text></g>
<g id="leaf186"><use href="#m" x="240.2" y="2622.6"/><text x="246.2" y="2626.1">ENSODEP00000026018</text></g>
<g id="leaf187"><use href="#m" x="263.3" y="2636.6"/><text x="269.3" y="2640.1">ENSODEP00000026603</text></g>
<g id="leaf188"><use href="#m" x="240.2" y="2650.5"/><text x="246.2" y="2654">TMEM60_OCHPR</text></g>
<g id="leaf189"><use href="#m" x="196.5" y="2664.5"/><text x="202.5" y="2668">TMEM60_MICMU</text></g>
<g id="leaf190"><use href="#m" x="197.4" y="2678.5"/><text x="203.4" y="2682">TMEM60_PROSS</text></g>
<g id="leaf191"><use href="#m" x="195.5" y="2692.4"/><text x="201.5" y="2695.9">TMEM60_PROCO</text></g>
<g id="leaf192"><use href="#m" x="222.5" y="2706.4"/><text x="228.5" y="2709.9">TMEM60_HORSE</text></g>
<g id="leaf193"><use href="#m" x="222.5" y="2720.4"/><text x="228.5" y="2723.9">TMEM60_ENSEAS</text></g>
<g id="leaf194"><use href="#m" x="195.5" y="2734.3"/><text x="201.5" y="2737.8">TMEM60_CHOHO</text></g>
<g id="leaf195"><use href="#m" x="196.5" y="2748.3"/><text x="202.5" y="2751.8">TMEM60_DASNO</text></g>
<g id="leaf196"><use href="#m" x="216.6" y="2762.2"/><text x="222.6" y="2765.7">TMEM60_VOMUR</text></g>
<g id="leaf197"><use href="#m" x="218.6" y="2776.2"/><text x="224.6" y="2779.7">TMEM60_PHACI</text></g>
<g id="leaf198"><use href="#m" x="212.2" y="2790.2"/><text x="218.2" y="2793.7">TMEM60_MACEU</text></g>
<g id="leaf199"><use href="#m" x="221" y="2804.1"/><text x="227" y="2807.6">TMEM60_SARHA</text></g>
<g id="leaf200"><use href="#m" x="216.1" y="2818.1"/><text x="222.1" y="2821.6">TMEM60_MONDO</text></g>
<g id="leaf201"><use href="#m" x="262.3" y="2832.1"/><text x="268.3" y="2835.6">TMEM60_ORNAN</text></g>
<g id="leaf202"><use href="#m" x="185.7" y="2846"/><text x="191.7" y="2849.5">TMEM60_CHEAB</text></g>
<g id="leaf203"><use href="#m" x="191.6" y="2860"/><text x="197.6" y="2863.5">TMEM60_ENSGAG</text></g>
<g id="leaf204"><use href="#m" x="194.5" y="2874"/><text x="200.5" y="2877.5">TMEM60_CHRPI</text></g>
<g id="leaf205"><use href="#m" x="192.5" y="2887.9"/><text x="198.5" y="2891.4">TMEM60_PELSI</text></g>
<g id="leaf206"><use href="#m" x="203.3" y="2901.9"/><text x="209.3" y="2905.4">TMEM60_ENSARW</text></g>
<g id="leaf207"><use href="#m" x="203.3" y="2915.9"/><text x="209.3" y="2919.4">TMEM60_APTOW</text></g>
<g id="leaf208"><use href="#m" x="203.3" y="2929.8"/><text x="209.3" y="2933.3">TMEM60_APTHA</text></g>
<g id="leaf209"><use href="#m" x="201" y="2943.8"/><text x="207" y="2947.3">TMEM60_DRONO</text></g>
<g id="leaf210"><use href="#m" x="254.9" y="2957.8"/><text x="260.9" y="2961.3">TMEM60_NOTPE</text></g>
<g id="leaf211"><use href="#m" x="216.1" y="2971.7"/><text x="222.1" y="2975.2">TMEM60_ENSCPG</text></g>
<g id="leaf212"><use href="#m" x="221.5" y="2985.7"/><text x="227.5" y="2989.2">TMEM60_CALPG</text></g>
<g id="leaf213"><use href="#m" x="238.7" y="2999.7"/><text x="244.7" y="3003.2">TMEM60_CHICK</text></g>
<g id="leaf214"><use href="#m" x="240.2" y="3013.6"/><text x="246.2" y="3017.1">TMEM60_COTJA</text></g>
<g id="leaf215"><use href="#m" x="243.6" y="3027.6"/><text x="249.6" y="3031.1">TMEM60_MELGA</text></g>
<g id="leaf216"><use href="#m" x="245.6" y="3041.6"/><text x="251.6" y="3045.1">TMEM60_NUMME</text></g>
<g id="leaf217"><use href="#m" x="238.7" y="3055.5"/><text x="244.7" y="3059">TMEM60_ENSABR</text></g>
<g id="leaf218"><use href="#m" x="252.5" y="3069.5"/><text x="258.5" y="3073">TMEM60_PARMJ</text></g>
<g id="leaf219"><use href="#m" x="254.4" y="3083.5"/><text x="260.4" y="3087">TMEM60_CYACU</text></g>
<g id="leaf220"><use href="#m" x="253.4" y="3097.4"/><text x="259.4" y="3100.9">TMEM60_FICAL</text></g>
<g id="leaf221"><use href="#m" x="258.3" y="3111.4"/><text x="264.3" y="3114.9">TMEM60_ENSLSD</text></g>
<g id="leaf222"><use href="#m" x="258.3" y="3125.3"/><text x="264.3" y="3128.8">TMEM60_TAEGU</text></g>
<g id="leaf223"><use href="#m" x="261.3" y="3139.3"/><text x="267.3" y="3142.8">TMEM60_SERCA</text></g>
<g id="leaf224"><use href="#m" x="286.8" y="3153.3"/><text x="292.8" y="3156.8">TMEM60_ZONAL</text></g>
<g id="leaf225"><use href="#m" x="287.8" y="3167.2"/><text x="293.8" y="3170.7">TMEM60_JUNHY</text></g>
<g id="leaf226"><use href="#m" x="250.5" y="3181.2"/><text x="256.5" y="3184.7">TMEM60_ENSMVI</text></g>
<g id="leaf227"><use href="#m" x="250.5" y="3195.2"/><text x="256.5" y="3198.7">TMEM60_ENSLCO</text></g>
<g id="leaf228"><use href="#m" x="247.5" y="3209.1"/><text x="253.5" y="3212.6">TMEM60_MELUD</text></g>
<g id="leaf229"><use href="#m" x="197.4" y="3223.1"/><text x="203.4" y="3226.6">TMEM60_CROPO</text></g>
<g id="leaf230"><use href="#m" x="250.5" y="3237.1"/><text x="256.5" y="3240.6">TMEM60_ENSPVI</text></g>
<g id="leaf231"><use href="#m" x="300.6" y="3251"/><text x="306.6" y="3254.5">TMEM60_ENSNSU</text></g>
<g id="leaf232"><use href="#m" x="248.5" y="3265"/><text x="254.5" y="3268.5">TMEM60_ENSSMR</text></g>
<g id="leaf233"><use href="#m" x="192" y="3279"/><text x="198" y="3282.5">TMEM60_SPHPU</text></g>
<g id="leaf234"><use href="#m" x="239.7" y="3292.9"/><text x="245.7" y="3296.4">plcg1_XENTR</text></g>
<g id="leaf235"><use href="#m" x="183.7" y="3306.9"/><text x="189.7" y="3310.4">TMEM60_LATCH</text></g>
</g>
</svg>
